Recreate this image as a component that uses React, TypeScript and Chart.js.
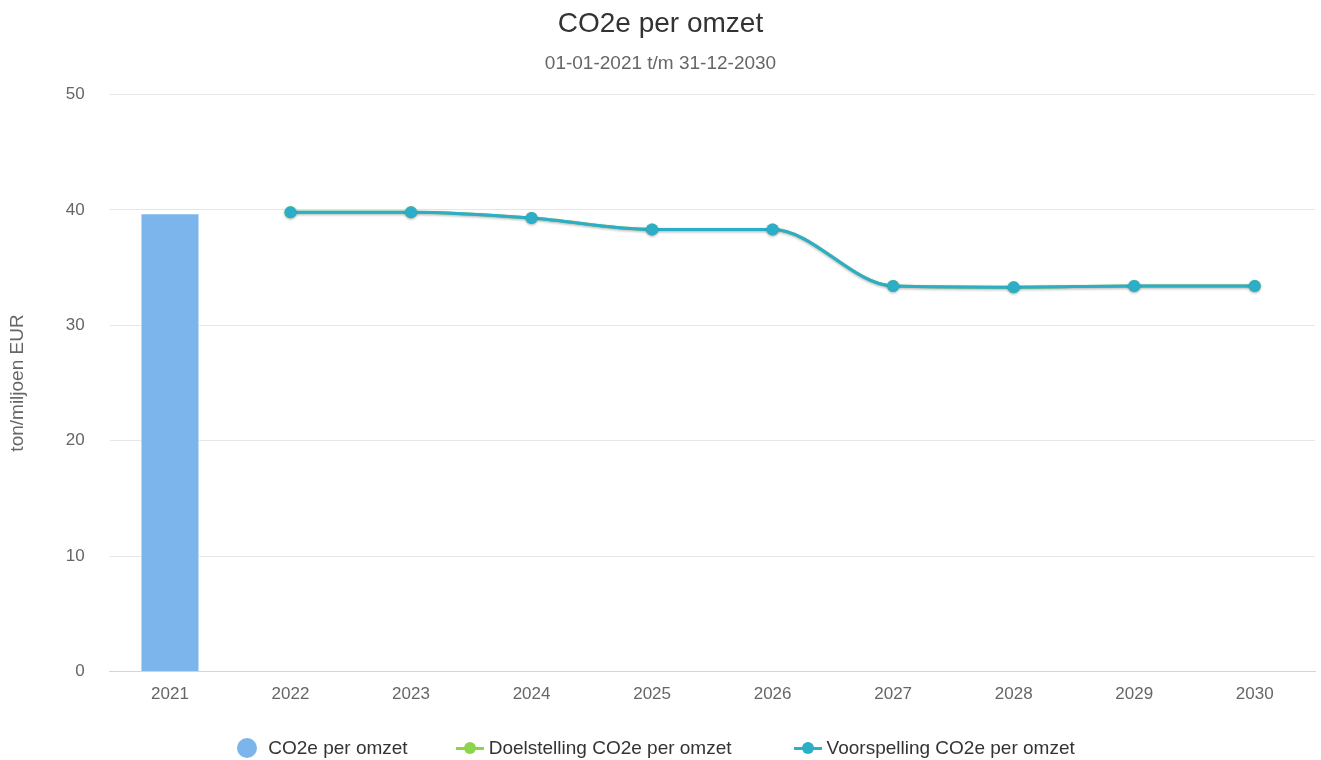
import React, { useEffect, useRef } from "react";
import { Chart, registerables } from "chart.js";

Chart.register(...registerables);

const categories = ["2021", "2022", "2023", "2024", "2025", "2026", "2027", "2028", "2029", "2030"];
const actualValues = [39.7, null, null, null, null, null, null, null, null, null];
const targetValues = [null, 39.8, 39.8, 39.3, 38.3, 38.3, 33.4, 33.3, 33.4, 33.4];
const forecastValues = [null, 39.8, 39.8, 39.3, 38.3, 38.3, 33.4, 33.3, 33.4, 33.4];
const yTicks = [0, 10, 20, 30, 40, 50];

const seriesNames = ["CO2e per omzet", "Doelstelling CO2e per omzet", "Voorspelling CO2e per omzet"];
const barColor = "#7cb5ec";
const targetColor = "#8cd44a";
const forecastColor = "#2caec8";
const FONT = "'Liberation Sans', Arial, Helvetica, sans-serif";

function LegendCircle({ color }: { color: string }) {
  return (
    <span
      style={{
        display: "inline-block",
        width: 20,
        height: 20,
        borderRadius: 10,
        background: color,
        marginRight: 11,
      }}
    />
  );
}

function LegendLine({ color }: { color: string }) {
  return (
    <span style={{ position: "relative", display: "inline-block", width: 28, height: 20, marginRight: 5 }}>
      <span style={{ position: "absolute", left: 0, top: 8.5, width: 28, height: 3, background: color }} />
      <span
        style={{
          position: "absolute",
          left: 8,
          top: 4,
          width: 12,
          height: 12,
          borderRadius: 6,
          background: color,
        }}
      />
    </span>
  );
}

export default function App() {
  const ref = useRef<HTMLCanvasElement | null>(null);

  useEffect(() => {
    if (!ref.current) return;

    const shadowPlugin = {
      id: "lineShadow",
      beforeDatasetDraw(chart: any, args: any) {
        if (args.meta.type === "line") {
          const ctx = chart.ctx;
          ctx.save();
          ctx.shadowColor = "rgba(0,0,0,0.18)";
          ctx.shadowBlur = 3;
          ctx.shadowOffsetX = 0;
          ctx.shadowOffsetY = 1;
        }
      },
      afterDatasetDraw(chart: any, args: any) {
        if (args.meta.type === "line") chart.ctx.restore();
      },
    };

    const chart = new Chart(ref.current, {
      type: "bar",
      data: {
        labels: categories,
        datasets: [
          {
            type: "bar",
            label: seriesNames[0],
            data: actualValues,
            backgroundColor: barColor,
            borderColor: "#ffffff",
            borderWidth: 1,
            barPercentage: 0.49,
            categoryPercentage: 1,
            order: 3,
          },
          {
            type: "line",
            label: seriesNames[1],
            data: targetValues,
            borderColor: targetColor,
            backgroundColor: targetColor,
            borderWidth: 3,
            pointRadius: 6,
            pointBorderWidth: 0,
            pointBackgroundColor: targetColor,
            cubicInterpolationMode: "monotone",
            order: 2,
          },
          {
            type: "line",
            label: seriesNames[2],
            data: forecastValues,
            borderColor: forecastColor,
            backgroundColor: forecastColor,
            borderWidth: 3,
            pointRadius: 6,
            pointBorderWidth: 0,
            pointBackgroundColor: forecastColor,
            cubicInterpolationMode: "monotone",
            order: 1,
          },
        ] as any,
      },
      options: {
        animation: false,
        responsive: true,
        maintainAspectRatio: false,
        layout: { padding: { left: 0, right: 0, top: 0, bottom: 42 } },
        plugins: {
          title: {
            display: true,
            text: "CO2e per omzet",
            color: "#333333",
            font: { family: FONT, size: 28, weight: "normal" },
            padding: { top: 7, bottom: 0 },
          },
          subtitle: {
            display: true,
            text: "01-01-2021 t/m 31-12-2030",
            color: "#666666",
            font: { family: FONT, size: 19, weight: "normal" },
            padding: { top: 12, bottom: 19 },
          },
          legend: { display: false },
          tooltip: { enabled: false },
        },
        scales: {
          x: {
            offset: true,
            grid: { display: false, drawTicks: false },
            border: { display: true, color: "#ccd6eb", width: 1 },
            ticks: { color: "#666666", font: { family: FONT, size: 17 }, padding: 13 },
          },
          y: {
            min: 0,
            max: 50,
            afterBuildTicks(scale: any) {
              scale.ticks = yTicks.map((v) => ({ value: v }));
            },
            grid: { color: "#e6e6e6", drawTicks: false, lineWidth: 1 },
            border: { display: false },
            ticks: { color: "#666666", font: { family: FONT, size: 17 }, padding: 25 },
            title: {
              display: true,
              text: "ton/miljoen EUR",
              color: "#666666",
              font: { family: FONT, size: 19 },
              padding: { top: 6, bottom: 12 },
            },
          },
        },
      } as any,
      plugins: [shadowPlugin],
    });
    return () => chart.destroy();
  }, []);

  const textStyle: React.CSSProperties = { fontFamily: FONT, fontSize: 19, color: "#333333", whiteSpace: "nowrap" };
  const itemStyle: React.CSSProperties = { display: "flex", alignItems: "center" };

  return (
    <div style={{ position: "fixed", left: 0, top: 0, width: 1321, height: 760, background: "#ffffff" }}>
      <canvas ref={ref} />
      <div
        style={{
          position: "absolute",
          left: 0,
          top: 736,
          width: 1312,
          height: 24,
          display: "flex",
          justifyContent: "center",
          alignItems: "center",
        }}
      >
        <div style={{ ...itemStyle, marginRight: 48 }}>
          <LegendCircle color={barColor} />
          <span style={textStyle}>{seriesNames[0]}</span>
        </div>
        <div style={{ ...itemStyle, marginRight: 62 }}>
          <LegendLine color={targetColor} />
          <span style={textStyle}>{seriesNames[1]}</span>
        </div>
        <div style={itemStyle}>
          <LegendLine color={forecastColor} />
          <span style={textStyle}>{seriesNames[2]}</span>
        </div>
      </div>
    </div>
  );
}
